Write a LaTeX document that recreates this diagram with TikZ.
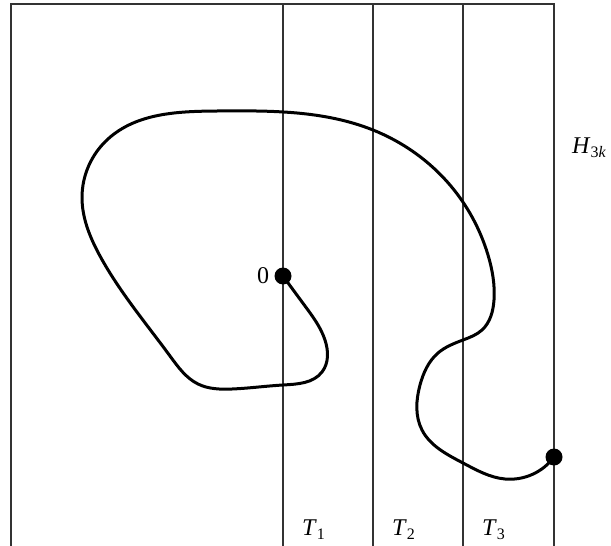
\documentclass[tikz,border=0pt]{standalone}
\usepackage{fontspec}
\setmainfont{Liberation Serif}
\usepackage{xcolor}
\usepackage{tikz}
\usetikzlibrary{positioning,hobby}

\newcommand{\lowsub}[1]{\raisebox{-4pt}{\fontsize{16}{16}\selectfont #1}}

\begin{document}
\begin{tikzpicture}[
x=1pt, y=-1pt,
strip/.style={line width=1.3pt, black!80},
walk/.style={line width=3pt, black, line join=round, use Hobby shortcut},
dot/.style={circle, fill=black, inner sep=0pt, minimum size=17pt},
lbl/.style={inner sep=0pt, font=\fontsize{24}{28}\selectfont}
]
\useasboundingbox (0,0) rectangle (611,546);

% strips
\draw[strip] (11,546) -- (11,4) -- (554,4) -- (554,546);
\foreach \x in {283,373,463}
  \draw[strip] (\x,4) -- (\x,546);

% end points of the walk
\node[dot] (origin) at (283,276) {};
\node[dot] (endpt) at (554,457) {};
\node[lbl, left=5pt of origin] (zero) {0};

% labels
\foreach \i/\x in {1/283,2/373,3/463}
  \node[lbl, anchor=base west] (T\i) at (\x+19,535) {\textit{T}\lowsub{\i}};
\node[lbl, anchor=base west] (H) at (572,153) {\textit{H}\lowsub{3\textit{k}}};

% the walk
\draw[walk] (origin.center) .. (305,306) .. (325,340) .. (322,372)
  .. (283,385) .. (232,389) .. (198,384) .. (170,356) .. (100,256)
  .. (82,197) .. (108,139) .. (217,111) .. (373,130) .. (450,185)
  .. (488,255) .. (494,300) .. (482,330) .. (463,340) .. (438,353)
  .. (420,385) .. (422,430) .. (463,463) .. (505,479) .. (endpt.center);
\end{tikzpicture}
\end{document}
